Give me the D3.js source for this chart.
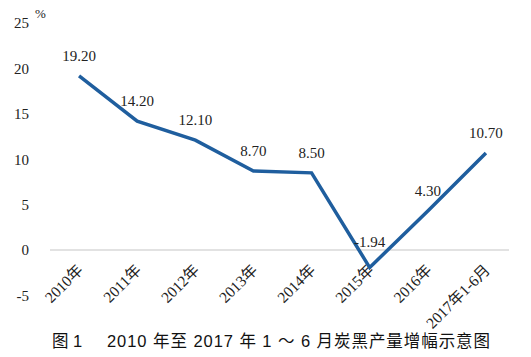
<!DOCTYPE html>
<html><head><meta charset="utf-8">
<script src="https://cdn.jsdelivr.net/npm/d3@7"></script>
<style>body{margin:0;background:#fff}svg{display:block}</style>
</head><body>
<script>
const categories = ["2010年","2011年","2012年","2013年","2014年","2015年","2016年","2017年1-6月"];
const values = [19.20, 14.20, 12.10, 8.70, 8.50, -1.94, 4.30, 10.70];
const valueLabels = ["19.20","14.20","12.10","8.70","8.50","-1.94","4.30","10.70"];
const yTicks = [-5, 0, 5, 10, 15, 20, 25];
const unitLabel = "%";
const titlePrefix = "图 1";
const titleText = "2010 年至 2017 年 1 ～ 6 月炭黑产量增幅示意图";

const W = 531, H = 357;
const svg = d3.select("body").append("svg").attr("width", W).attr("height", H);
const serif = "'Liberation Serif','Times New Roman','Noto Sans CJK SC',serif";
const sans = "'Liberation Sans','Noto Sans CJK SC',sans-serif";

const x = d3.scaleBand().domain(categories).range([50, 515]).padding(0);
const y = d3.scaleLinear().domain([-5, 25]).range([295.3, 23.2]);
const cx = d => x(d) + x.bandwidth() / 2;

// zero line
svg.append("line").attr("x1", 50).attr("x2", 509)
  .attr("y1", y(0)).attr("y2", y(0))
  .attr("stroke", "#d9d9d9").attr("stroke-width", 1.5);

// y tick labels
svg.append("g").selectAll("text").data(yTicks).join("text")
  .attr("x", 29).attr("y", d => y(d)).attr("dy", "0.35em")
  .attr("text-anchor", "end").attr("font-family", serif).attr("font-size", 15)
  .attr("fill", "#222").text(d => d);

svg.append("text").attr("x", 35).attr("y", 18).attr("font-family", serif)
  .attr("font-size", 13).attr("fill", "#222").text(unitLabel);

// x labels
svg.append("g").selectAll("text").data(categories).join("text")
  .attr("transform", d => `translate(${cx(d) + 5},${y(0) + 21}) rotate(-45)`)
  .attr("text-anchor", "end").attr("font-family", serif).attr("font-size", 15.5)
  .attr("fill", "#222").text(d => d);

// line
const line = d3.line().x((d, i) => cx(categories[i])).y(d => y(d));
svg.append("path").datum(values).attr("d", line)
  .attr("fill", "none").attr("stroke", "#1f5e9e").attr("stroke-width", 3.5)
  .attr("stroke-linejoin", "miter");

// value labels
svg.append("g").selectAll("text").data(values).join("text")
  .attr("x", (d, i) => cx(categories[i]))
  .attr("y", d => y(d) - (d < 0 ? 21 : 15))
  .attr("text-anchor", "middle").attr("font-family", serif).attr("font-size", 15)
  .attr("fill", "#222").text((d, i) => valueLabels[i]);

// title
svg.append("text").attr("x", 52).attr("y", 347)
  .attr("font-family", sans).attr("font-size", 16.5).attr("fill", "#111").text(titlePrefix);
svg.append("text").attr("x", 107).attr("y", 347)
  .attr("font-family", sans).attr("font-size", 16.5).attr("fill", "#111")
  .attr("textLength", 383).attr("lengthAdjust", "spacing").text(titleText);
</script>
</body></html>
